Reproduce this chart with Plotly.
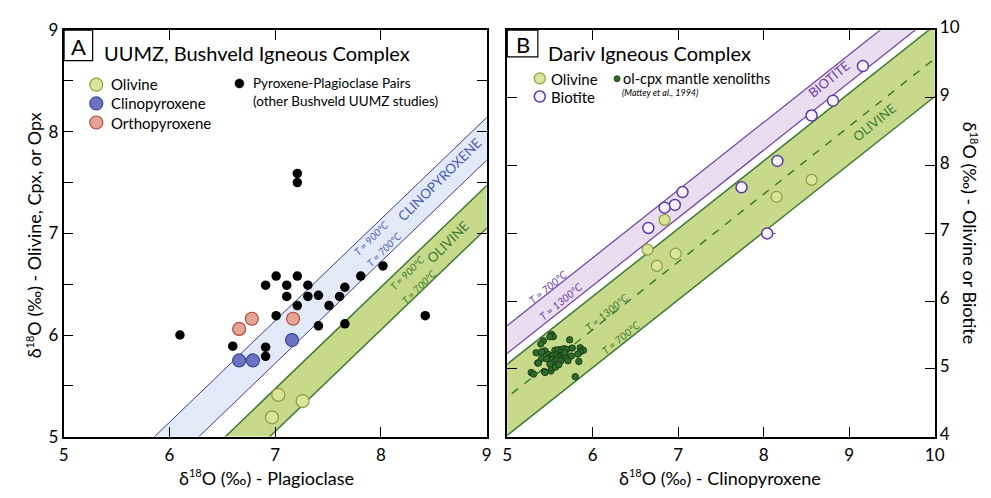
import numpy as np
import plotly.graph_objects as go

# ---------------- Panel A data (UUMZ, Bushveld) ----------------
A_PAIRS_PLAG = [6.10, 7.21, 7.21, 6.91, 7.01, 7.11, 7.21, 7.31, 7.11, 7.31, 7.41, 7.21,
                7.51, 7.61, 7.66, 7.81, 8.02, 7.01, 7.41, 7.66, 6.60, 6.91, 6.91, 8.42]
A_PAIRS_PX = [6.00, 7.59, 7.50, 6.49, 6.58, 6.49, 6.58, 6.49, 6.38, 6.38, 6.39, 6.29,
              6.29, 6.38, 6.47, 6.58, 6.68, 6.19, 6.09, 6.11, 5.89, 5.88, 5.79, 6.19]
A_OPX_PLAG = [6.66, 6.78, 7.17]
A_OPX = [6.06, 6.16, 6.16]
A_CPX_PLAG = [6.66, 6.79, 7.16]
A_CPX = [5.75, 5.75, 5.95]
A_OL_PLAG = [7.03, 7.26, 6.97]
A_OL = [5.41, 5.35, 5.19]

# plag-mineral fractionation (permil): y = x - delta
A_CPX_D900, A_CPX_D700 = 0.86, 1.28
A_OL_D900, A_OL_D700 = 1.53, 1.95

# ---------------- Panel B data (Dariv) ----------------
B_BIO_CPX = [9.16, 8.81, 8.56, 8.16, 7.74, 7.05, 6.96, 6.84, 6.65, 8.04]
B_BIO = [9.47, 8.96, 8.74, 8.07, 7.68, 7.61, 7.42, 7.38, 7.08, 7.00]
B_BIO_ERR = [0, 0, 0, 0, 0, 0, 0, 0, 0, 0.10]
B_OL_CPX = [8.56, 8.15, 6.84, 6.64, 6.97, 6.75]
B_OL = [7.79, 7.54, 7.20, 6.76, 6.70, 6.52]
B_XEN_CPX = [5.518, 5.538, 5.499, 5.422, 5.392, 5.730, 5.338, 5.442, 5.557, 5.595,
             5.634, 5.664, 5.699, 5.760, 5.853, 5.891, 5.856, 5.357, 5.480, 5.511,
             5.538, 5.576, 5.603, 5.634, 5.661, 5.691, 5.749, 5.826, 5.837, 5.403,
             5.461, 5.526, 5.557, 5.588, 5.626, 5.710, 5.434, 5.511, 5.518, 5.565,
             5.603, 5.280, 5.307, 5.442, 5.795, 5.365, 5.499, 5.672, 5.403]
B_XEN_OL = [5.508, 5.475, 5.475, 5.414, 5.368, 5.429, 5.237, 5.265, 5.274, 5.283,
            5.283, 5.297, 5.288, 5.307, 5.311, 5.274, 5.251, 5.087, 5.213, 5.180,
            5.204, 5.204, 5.180, 5.180, 5.190, 5.157, 5.190, 5.218, 5.110, 5.157,
            5.148, 5.133, 5.110, 5.133, 5.119, 5.119, 4.960, 4.970, 5.016, 5.026,
            5.063, 4.946, 4.923, 4.946, 4.885, 5.087, 5.073, 5.237, 5.251]

# cpx-mineral offsets: y = x + c
B_BIO_C700, B_BIO_C1300 = 0.64, 0.23
B_OL_UPPER, B_OL_C1300, B_OL_C700 = 0.07, -0.42, -0.98

A_XTICKS = [5, 6, 7, 8, 9]
A_YTICKS = [5, 6, 7, 8, 9]
B_XTICKS = [5, 6, 7, 8, 9, 10]
B_YTICKS = [4, 5, 6, 7, 8, 9, 10]

FONT = "Lato"
W, H = 991, 498


def pxx(x):
    return x / W


def pxy(y):
    return 1 - y / H


fig = go.Figure()
LX = np.array([3.0, 12.0])


def band(xa, ya, c_hi, c_lo, fill):
    fig.add_trace(go.Scatter(
        x=list(LX) + list(LX[::-1]),
        y=list(LX + c_hi) + list((LX + c_lo)[::-1]),
        fill="toself", fillcolor=fill, mode="none", hoverinfo="skip",
        showlegend=False, xaxis=xa, yaxis=ya))


def line(xa, ya, c, color, width, dash="solid"):
    fig.add_trace(go.Scatter(
        x=LX, y=LX + c, mode="lines", line=dict(color=color, width=width, dash=dash),
        hoverinfo="skip", showlegend=False, xaxis=xa, yaxis=ya))


# ---- Panel A bands
CPX_FILL, CPX_LINE = "#e3eaf7", "#3d3c8c"
OLA_FILL, OL_LINE = "#c7da8c", "#3f7a32"
band("x", "y", -A_CPX_D900, -A_CPX_D700, CPX_FILL)
line("x", "y", -A_CPX_D900, CPX_LINE, 1)
line("x", "y", -A_CPX_D700, CPX_LINE, 1)
band("x", "y", -A_OL_D900, -A_OL_D700, OLA_FILL)
line("x", "y", -A_OL_D900, OL_LINE, 1.5)
line("x", "y", -A_OL_D700, OL_LINE, 1.5)

# ---- Panel A points
fig.add_trace(go.Scatter(x=A_PAIRS_PLAG, y=A_PAIRS_PX, mode="markers",
                         marker=dict(size=9.5, color="black"), showlegend=False,
                         xaxis="x", yaxis="y"))
OL_FILL, OL_EDGE = "#d8e59b", "#8e9c3c"
CPXM_FILL, CPXM_EDGE = "#6a74c2", "#3d4797"
OPX_FILL, OPX_EDGE = "#e3a595", "#b5483a"
fig.add_trace(go.Scatter(x=A_OPX_PLAG, y=A_OPX, mode="markers",
                         marker=dict(size=13, color=OPX_FILL, line=dict(color=OPX_EDGE, width=1.2)),
                         showlegend=False, xaxis="x", yaxis="y"))
fig.add_trace(go.Scatter(x=A_CPX_PLAG, y=A_CPX, mode="markers",
                         marker=dict(size=13, color=CPXM_FILL, line=dict(color=CPXM_EDGE, width=1.2)),
                         showlegend=False, xaxis="x", yaxis="y"))
fig.add_trace(go.Scatter(x=A_OL_PLAG, y=A_OL, mode="markers",
                         marker=dict(size=13, color=OL_FILL, line=dict(color=OL_EDGE, width=1.2)),
                         showlegend=False, xaxis="x", yaxis="y"))

# ---- Panel B bands
BIO_FILL, BIO_LINE = "#e9ddf0", "#6b3fa0"
band("x2", "y2", B_BIO_C700, B_BIO_C1300, BIO_FILL)
line("x2", "y2", B_BIO_C700, BIO_LINE, 1.2)
line("x2", "y2", B_BIO_C1300, BIO_LINE, 1.2)
band("x2", "y2", B_OL_UPPER, B_OL_C700, OLA_FILL)
line("x2", "y2", B_OL_UPPER, OL_LINE, 1.5)
line("x2", "y2", B_OL_C700, OL_LINE, 1.5)
line("x2", "y2", B_OL_C1300, OL_LINE, 1.5, dash="8px,8px")

# ---- Panel B points
fig.add_trace(go.Scatter(x=B_XEN_CPX, y=B_XEN_OL, mode="markers",
                         marker=dict(size=6.5, color="#2f6b2b", line=dict(color="#10300e", width=0.8)),
                         showlegend=False, xaxis="x2", yaxis="y2"))
fig.add_trace(go.Scatter(x=B_OL_CPX, y=B_OL, mode="markers",
                         marker=dict(size=11, color=OL_FILL, line=dict(color=OL_EDGE, width=1.2)),
                         showlegend=False, xaxis="x2", yaxis="y2"))
fig.add_trace(go.Scatter(x=B_BIO_CPX, y=B_BIO, mode="markers",
                         error_x=dict(type="data", array=B_BIO_ERR, arrayminus=[0] * len(B_BIO_ERR),
                                      color="#5b3ca6", thickness=1, width=0),
                         marker=dict(size=11, color="#f6f1fb", line=dict(color="#5b3ca6", width=1.5)),
                         showlegend=False, xaxis="x2", yaxis="y2"))

# ---------------- Axes ----------------
common = dict(showgrid=False, zeroline=False, showline=True, linecolor="black", linewidth=1.5,
              mirror="ticks", ticks="inside", ticklen=10, tickwidth=1.2, tickcolor="black",
              tickfont=dict(family=FONT, size=17, color="black"))
YB = [1 - 444 / H, 1 - 17 / H]
fig.update_layout(
    xaxis=dict(domain=[59.5 / W, 489 / W], range=[5, 9], tickvals=A_XTICKS, anchor="y",
               ticklabelstandoff=2, **common),
    yaxis=dict(domain=YB, range=[5, 9], tickvals=A_YTICKS, anchor="x",
               minor=dict(tick0=5, dtick=0.5, ticks="inside", ticklen=10, tickwidth=1.2,
                          tickcolor="black", showgrid=False),
               **common),
    xaxis2=dict(domain=[510 / W, 944 / W], range=[5, 10], tickvals=B_XTICKS, anchor="y2",
                ticklabelstandoff=2, **common),
    yaxis2=dict(domain=YB, range=[4, 10], tickvals=B_YTICKS, anchor="x2", side="right",
                ticklabelshift=-3, **common),
)

# ---------------- Text ----------------
ann = []


def t(xp, yp, text, size, color="black", xanchor="left", yanchor="middle", angle=0,
      xref="paper", yref="paper", italic=False):
    s = f"<i>{text}</i>" if italic else text
    ann.append(dict(x=xp, y=yp, xref=xref, yref=yref, text=s, showarrow=False,
                    xanchor=xanchor, yanchor=yanchor, textangle=angle,
                    font=dict(family=FONT, size=size, color=color)))


D18 = "δ<sup><span style='font-size:11px'>18</span></sup>O"
# axis titles
t(pxx(266), pxy(487), f"{D18} (‰) - Plagioclase", 18, xanchor="center")
t(pxx(726), pxy(487), f"{D18} (‰) - Clinopyroxene", 18, xanchor="center")
t(pxx(30), pxy(233), f"{D18} (‰) - Olivine, Cpx, or Opx", 18, xanchor="center", angle=-90)
t(pxx(979), pxy(230), f"{D18} (‰) - Olivine or Biotite", 18, xanchor="center", angle=90)

# panel titles
t(pxx(74.5), pxy(34), "A", 22, xanchor="center")
t(pxx(98), pxy(41), "UUMZ, Bushveld Igneous Complex", 20)
t(pxx(525.5), pxy(32), "B", 22, xanchor="center")
t(pxx(549), pxy(41), "Dariv Igneous Complex", 20)

# legend A
t(pxx(106), pxy(74), "Olivine", 15)
t(pxx(106), pxy(94), "Clinopyroxene", 15)
t(pxx(106), pxy(114), "Orthopyroxene", 15)
t(pxx(250), pxy(73), "Pyroxene-Plagioclase Pairs", 13.5)
t(pxx(250), pxy(91), "(other Bushveld UUMZ studies)", 13.5)
# legend B
t(pxx(552), pxy(68), "Olivine", 15)
t(pxx(552), pxy(87), "Biotite", 15)
t(pxx(625), pxy(68), "ol-cpx mantle xenoliths", 14.5)
t(pxx(624), pxy(82), "(Mattey et al., 1994)", 9, italic=True)

# band labels panel A
AA = -44.8
BLUE_T = "#4b5cb5"
t(8.559, 7.536, "CLINOPYROXENE", 13.5, BLUE_T, "center", angle=AA, xref="x", yref="y")
t(7.907, 6.958, "T = 900ºC", 10, BLUE_T, "center", angle=AA, xref="x", yref="y", italic=True)
t(8.031, 6.848, "T = 700ºC", 10, BLUE_T, "center", angle=AA, xref="x", yref="y", italic=True)
t(8.636, 6.911, "OLIVINE", 13.5, OL_LINE, "center", angle=AA, xref="x", yref="y")
t(8.245, 6.614, "T = 900ºC", 10, OL_LINE, "center", angle=AA, xref="x", yref="y", italic=True)
t(8.357, 6.474, "T = 700ºC", 10, OL_LINE, "center", angle=AA, xref="x", yref="y", italic=True)
# band labels panel B
BA = -39.4
t(8.764, 9.273, "BIOTITE", 13, BIO_LINE, "center", angle=BA, xref="x2", yref="y2")
t(9.297, 8.641, "OLIVINE", 13, OL_LINE, "center", angle=BA, xref="x2", yref="y2")
t(5.480, 6.210, "T = 700ºC", 10.5, BIO_LINE, "center", angle=BA, xref="x2", yref="y2", italic=True)
t(5.634, 6.000, "T = 1300ºC", 10.5, BIO_LINE, "center", angle=BA, xref="x2", yref="y2", italic=True)
t(6.172, 5.836, "T = 1300ºC", 10.5, OL_LINE, "center", angle=BA, xref="x2", yref="y2", italic=True)
t(6.325, 5.461, "T = 700ºC", 10.5, OL_LINE, "center", angle=BA, xref="x2", yref="y2", italic=True)

# ---------------- Shapes: label boxes and legend glyphs ----------------
shapes = [
    dict(type="rect", xref="paper", yref="paper", x0=pxx(60), x1=pxx(89), y0=pxy(49), y1=pxy(17),
         line=dict(color="black", width=1.2)),
    dict(type="rect", xref="paper", yref="paper", x0=pxx(510), x1=pxx(541), y0=pxy(45), y1=pxy(17),
         line=dict(color="black", width=1.2)),
]


def glyph(cx, cy, d, fill, edge, lw=1.2):
    r = d / 2
    shapes.append(dict(type="circle", xref="paper", yref="paper", xsizemode="pixel",
                       ysizemode="pixel", xanchor=pxx(cx), yanchor=pxy(cy),
                       x0=-r, x1=r, y0=-r, y1=r, fillcolor=fill, line=dict(color=edge, width=lw)))


glyph(92.7, 74.3, 13, OL_FILL, OL_EDGE)
glyph(92.7, 94, 13, CPXM_FILL, CPXM_EDGE)
glyph(92.7, 114, 13, OPX_FILL, OPX_EDGE)
glyph(238, 73, 9, "black", "black", 0.5)
glyph(543, 67.7, 11, OL_FILL, OL_EDGE)
glyph(543, 86.7, 11, "#f6f1fb", "#5b3ca6", 1.5)
glyph(621.5, 68, 6, "#2f6b2b", "#10300e", 0.8)

fig.update_layout(width=W, height=H, margin=dict(l=0, r=0, t=0, b=0),
                  paper_bgcolor="white", plot_bgcolor="white",
                  annotations=ann, shapes=shapes, showlegend=False,
                  font=dict(family=FONT))
fig.write_html("out.html")
